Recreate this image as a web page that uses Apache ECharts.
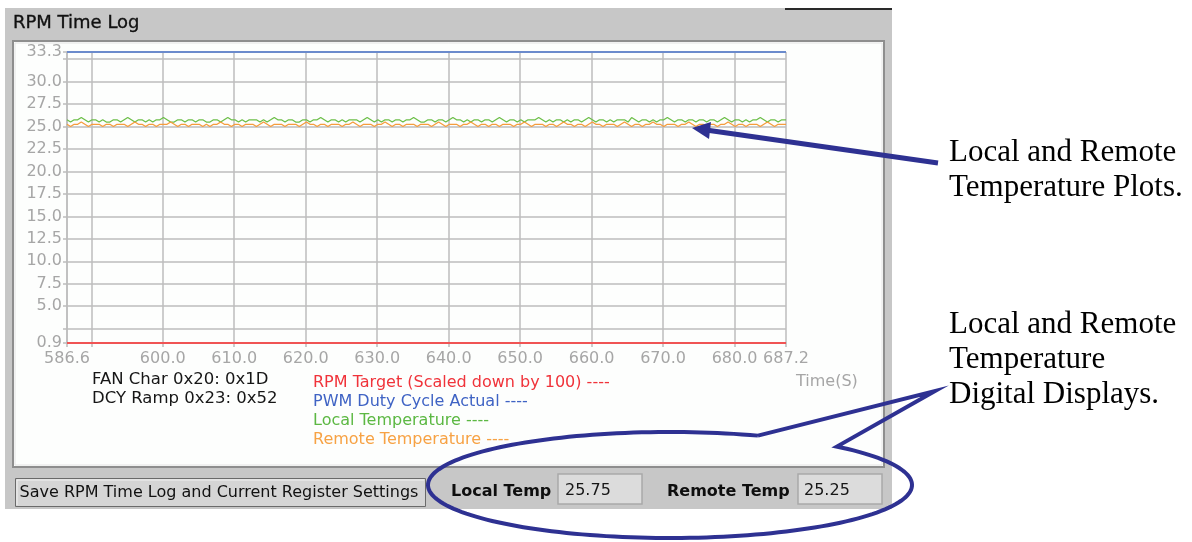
<!DOCTYPE html>
<html>
<head>
<meta charset="utf-8">
<script src="https://cdn.jsdelivr.net/npm/echarts@6/dist/echarts.min.js"></script>
<style>
  html, body { margin: 0; padding: 0; background: #ffffff; }
  #chart { width: 1192px; height: 542px; }
</style>
</head>
<body>
<div id="chart"></div>
<script>
// Sample clock of the temperature log (seconds)
const times = [
  586.6,587.1,587.6,588.1,588.6,589.1,589.6,590.1,590.6,591.1,591.6,592.1,592.6,593.1,593.6,594.1,594.6,595.1,595.6,596.1,
  596.6,597.1,597.6,598.1,598.6,599.1,599.6,600.1,600.6,601.1,601.6,602.1,602.6,603.1,603.6,604.1,604.6,605.1,605.6,606.1,
  606.6,607.1,607.6,608.1,608.6,609.1,609.6,610.1,610.6,611.1,611.6,612.1,612.6,613.1,613.6,614.1,614.6,615.1,615.6,616.1,
  616.6,617.1,617.6,618.1,618.6,619.1,619.6,620.1,620.6,621.1,621.6,622.1,622.6,623.1,623.6,624.1,624.6,625.1,625.6,626.1,
  626.6,627.1,627.6,628.1,628.6,629.1,629.6,630.1,630.6,631.1,631.6,632.1,632.6,633.1,633.6,634.1,634.6,635.1,635.6,636.1,
  636.6,637.1,637.6,638.1,638.6,639.1,639.6,640.1,640.6,641.1,641.6,642.1,642.6,643.1,643.6,644.1,644.6,645.1,645.6,646.1,
  646.6,647.1,647.6,648.1,648.6,649.1,649.6,650.1,650.6,651.1,651.6,652.1,652.6,653.1,653.6,654.1,654.6,655.1,655.6,656.1,
  656.6,657.1,657.6,658.1,658.6,659.1,659.6,660.1,660.6,661.1,661.6,662.1,662.6,663.1,663.6,664.1,664.6,665.1,665.6,666.1,
  666.6,667.1,667.6,668.1,668.6,669.1,669.6,670.1,670.6,671.1,671.6,672.1,672.6,673.1,673.6,674.1,674.6,675.1,675.6,676.1,
  676.6,677.1,677.6,678.1,678.6,679.1,679.6,680.1,680.6,681.1,681.6,682.1,682.6,683.1,683.6,684.1,684.6,685.1,685.6,686.1,
  686.6,687.2
];

// Local temperature (deg C)
const localTemp = [
  25.75,25.5,25.75,25.75,26.0,25.75,25.5,25.75,25.75,25.5,25.75,25.5,25.5,25.75,25.75,25.5,25.75,26.0,25.75,25.5,
  25.75,25.75,25.5,25.75,25.5,25.75,25.75,26.0,25.75,25.5,25.5,25.75,25.75,25.5,25.75,25.75,25.5,25.75,25.75,25.5,
  25.5,25.75,25.75,25.5,25.75,26.0,25.75,25.75,25.5,25.75,25.5,25.75,25.75,25.75,25.5,25.75,25.5,25.75,26.0,25.75,
  25.75,25.5,25.75,25.75,25.5,25.5,25.75,25.75,25.5,25.75,25.75,26.0,25.75,25.5,25.75,25.75,25.5,25.75,25.5,25.75,
  25.75,25.75,25.5,25.75,26.0,25.75,25.5,25.75,25.5,25.75,25.75,25.5,25.75,25.75,25.5,25.75,25.75,26.0,25.75,25.5,
  25.5,25.75,25.75,25.5,25.75,25.75,25.5,25.75,26.0,25.75,25.75,25.5,25.75,25.5,25.75,25.75,25.5,25.75,25.75,25.5,
  25.75,26.0,25.75,25.5,25.75,25.75,25.5,25.75,25.5,25.75,25.75,25.75,26.0,25.75,25.5,25.75,25.5,25.75,25.75,25.5,
  25.75,25.5,25.75,25.75,25.5,25.75,26.0,25.75,25.5,25.75,25.75,25.5,25.75,25.5,25.75,25.75,25.75,25.5,26.0,25.75,
  25.5,25.75,25.75,25.5,25.75,25.5,25.75,25.75,26.0,25.75,25.5,25.75,25.75,25.5,25.75,25.75,25.5,25.75,25.75,25.5,
  25.75,25.75,25.5,25.75,26.0,25.75,25.5,25.75,25.75,25.5,25.75,25.5,25.75,25.75,26.0,25.75,25.5,25.75,25.75,25.5,
  25.75,25.75
];

// Remote temperature (deg C)
const remoteTemp = [
  25.25,25.0,25.25,25.25,25.5,25.25,25.0,25.25,25.25,25.25,25.0,25.25,25.25,25.0,25.25,25.25,25.25,25.0,25.25,25.5,
  25.25,25.25,25.0,25.25,25.25,25.0,25.25,25.25,25.25,25.5,25.25,25.0,25.25,25.25,25.0,25.25,25.25,25.25,25.0,25.25,
  25.0,25.25,25.25,25.5,25.25,25.25,25.0,25.25,25.25,25.0,25.25,25.25,25.25,25.0,25.25,25.5,25.25,25.0,25.25,25.25,
  25.25,25.0,25.25,25.25,25.25,25.0,25.25,25.5,25.25,25.25,25.0,25.25,25.25,25.0,25.25,25.25,25.25,25.0,25.25,25.25,
  25.5,25.25,25.0,25.25,25.25,25.25,25.0,25.25,25.25,25.5,25.25,25.0,25.25,25.25,25.0,25.25,25.25,25.25,25.0,25.25,
  25.25,25.25,25.0,25.25,25.5,25.25,25.0,25.25,25.25,25.25,25.0,25.25,25.25,25.5,25.25,25.0,25.25,25.25,25.0,25.25,
  25.25,25.0,25.25,25.25,25.25,25.0,25.25,25.25,25.5,25.25,25.0,25.25,25.25,25.25,25.0,25.25,25.25,25.0,25.25,25.5,
  25.25,25.25,25.0,25.25,25.25,25.0,25.25,25.5,25.25,25.25,25.0,25.25,25.25,25.25,25.0,25.25,25.5,25.25,25.0,25.25,
  25.25,25.0,25.25,25.25,25.5,25.25,25.25,25.0,25.25,25.25,25.25,25.0,25.25,25.25,25.5,25.25,25.0,25.25,25.25,25.0,
  25.25,25.25,25.0,25.25,25.25,25.5,25.25,25.0,25.25,25.25,25.0,25.25,25.25,25.25,25.0,25.25,25.5,25.25,25.0,25.25,
  25.25,25.25
];

// Flat traces over the whole window
const flatTimes = [586.6, 687.2];
const rpmTarget = [0.9, 0.9];        // RPM target / 100
const pwmDuty = [33.3, 33.3];        // PWM duty cycle actual

const seriesNames = [
  'RPM Target (Scaled down by 100)',
  'PWM Duty Cycle Actual',
  'Local Temperature',
  'Remote Temperature'
];

// Axis ticks and labels
const xTicks = [586.6, 590, 600, 610, 620, 630, 640, 650, 660, 670, 680, 687.2];
const xLabels = [586.6, 600, 610, 620, 630, 640, 650, 660, 670, 680, 687.2];
const yTicks = [0.9, 2.5, 5, 7.5, 10, 12.5, 15, 17.5, 20, 22.5, 25, 27.5, 30, 32.5, 33.3];
const yLabels = [0.9, 5, 7.5, 10, 12.5, 15, 17.5, 20, 22.5, 25, 27.5, 30, 33.3];

const registerLines = ['FAN Char 0x20: 0x1D', 'DCY Ramp 0x23: 0x52'];

const UI_FONT = '"DejaVu Sans", Verdana, sans-serif';
const NOTE_FONT = '"Liberation Serif", "Times New Roman", serif';
const NAVY = '#2e3192';
const AXIS_TEXT = '#a6a6a6';
const GRID_LINE = '#bcbcbc';
const lineColors = ['#f05454', '#6b8bcc', '#6cbf48', '#f59c3c'];
const legendColors = ['#f0333a', '#3f63c4', '#5cb843', '#f7a244'];

const zip = (xs, ys) => xs.map((x, i) => [x, ys[i]]);

// Speech-bubble outline: an ellipse opened between two points, with a tail
function bubblePoints(cx, cy, rx, ry, fromDeg, toDeg, tip) {
  const pts = [];
  const step = fromDeg > toDeg ? -2 : 2;
  for (let a = fromDeg; step < 0 ? a >= toDeg : a <= toDeg; a += step) {
    const r = a * Math.PI / 180;
    pts.push([cx + rx * Math.cos(r), cy + ry * Math.sin(r)]);
  }
  const rEnd = toDeg * Math.PI / 180;
  pts.push([cx + rx * Math.cos(rEnd), cy + ry * Math.sin(rEnd)]);
  pts.push(tip);
  pts.push(pts[0]);
  return pts;
}

const chart = echarts.init(document.getElementById('chart'), null, { renderer: 'canvas' });

function txt(x, y, text, opts) {
  return {
    type: 'text', x: x, y: y, silent: true, z: opts.z || 5,
    style: Object.assign({
      text: text,
      fill: '#111111',
      fontSize: 16,
      fontFamily: UI_FONT,
      textAlign: 'left',
      textVerticalAlign: 'middle'
    }, opts.style || {})
  };
}

const lastLocal = localTemp[localTemp.length - 1].toFixed(2);
const lastRemote = remoteTemp[remoteTemp.length - 1].toFixed(2);

const graphics = [
  // window panel
  { type: 'rect', silent: true, z: -10, shape: { x: 5, y: 8, width: 887, height: 501 }, style: { fill: '#c7c7c7' } },
  { type: 'rect', silent: true, z: -9, shape: { x: 785, y: 8, width: 107, height: 2 }, style: { fill: '#2a2a2a' } },
  // plot frame
  { type: 'rect', silent: true, z: -8, shape: { x: 13, y: 41, width: 871, height: 426 }, style: { fill: '#fdfefd', stroke: '#8e8e8e', lineWidth: 2 } },
  { type: 'rect', silent: true, z: -7, shape: { x: 15, y: 43, width: 867, height: 422 }, style: { fill: 'none', stroke: '#e4e4e4', lineWidth: 1 } },
  txt(13, 23, 'RPM Time Log', { style: { fontSize: 18, fill: '#111111', stroke: '#111111', lineWidth: 0.35 } }),
  txt(92, 380, registerLines[0], { style: { fill: '#161616', fontSize: 16.5 } }),
  txt(92, 399, registerLines[1], { style: { fill: '#161616', fontSize: 16.5 } }),
  // save button
  { type: 'rect', silent: true, z: 1, shape: { x: 15.5, y: 478.5, width: 410, height: 28 }, style: { fill: '#d5d5d5', stroke: '#6a6a6a', lineWidth: 1 } },
  { type: 'polyline', silent: true, z: 2, shape: { points: [[17, 505], [17, 480], [424, 480]] }, style: { stroke: '#f2f2f2', lineWidth: 1, fill: 'none' } },
  txt(219, 493, 'Save RPM Time Log and Current Register Settings', { style: { textAlign: 'center', fontSize: 16, fill: '#111' } }),
  // temperature readouts
  txt(451, 492, 'Local Temp', { style: { fontWeight: 'bold', fill: '#0e0e0e' } }),
  { type: 'rect', silent: true, z: 1, shape: { x: 558, y: 474, width: 84, height: 30 }, style: { fill: '#dcdcdc', stroke: '#a9a9a9', lineWidth: 1.5 } },
  txt(565, 491, lastLocal, { style: { fill: '#161616' } }),
  txt(667, 492, 'Remote Temp', { style: { fontWeight: 'bold', fill: '#0e0e0e' } }),
  { type: 'rect', silent: true, z: 1, shape: { x: 798, y: 474, width: 84, height: 30 }, style: { fill: '#dcdcdc', stroke: '#a9a9a9', lineWidth: 1.5 } },
  txt(804, 491, lastRemote, { style: { fill: '#161616' } }),
  // callouts
  { type: 'line', silent: true, z: 100, shape: { x1: 938, y1: 163, x2: 706, y2: 130 }, style: { stroke: NAVY, lineWidth: 5 } },
  { type: 'polygon', silent: true, z: 100, shape: { points: [[692, 128], [711, 122], [709, 139]] }, style: { fill: NAVY } },
  { type: 'polyline', silent: true, z: 100,
    shape: { points: bubblePoints(670, 485, 242, 53, -68.7, -406.4, [935, 391]) },
    style: { fill: 'none', stroke: NAVY, lineWidth: 4, lineJoin: 'miter' } },
  txt(949, 135, 'Local and Remote\nTemperature Plots.', { style: { fontFamily: NOTE_FONT, fontSize: 31, lineHeight: 35, fill: '#000', textVerticalAlign: 'top' } }),
  txt(949, 307, 'Local and Remote\nTemperature\nDigital Displays.', { style: { fontFamily: NOTE_FONT, fontSize: 31, lineHeight: 35, fill: '#000', textVerticalAlign: 'top' } })
];

const axisCommon = {
  type: 'value',
  axisLine: { show: true, lineStyle: { color: GRID_LINE, width: 1.5 } },
  splitLine: { show: true, lineStyle: { color: GRID_LINE, width: 1.5 } },
  axisLabel: { color: AXIS_TEXT, fontSize: 16, fontFamily: UI_FONT, formatter: v => Number(v).toFixed(1) }
};

const option = {
  animation: false,
  backgroundColor: '#ffffff',
  grid: { left: 67, right: 406, top: 52, bottom: 199, show: true, backgroundColor: '#fdfefd', borderWidth: 0, containLabel: false, outerBoundsMode: 'none' },
  legend: {
    orient: 'vertical', left: 303, top: 368,
    icon: 'none', itemWidth: 0, itemHeight: 19, itemGap: 0,
    selectedMode: false,
    formatter: n => n + ' ----',
    textStyle: { fontSize: 16, fontFamily: UI_FONT, lineHeight: 19 },
    data: seriesNames.map((n, i) => ({ name: n, textStyle: { color: legendColors[i] } }))
  },
  xAxis: Object.assign({}, axisCommon, {
    min: 586.6, max: 687.2,
    name: 'Time(S)', nameLocation: 'end', nameGap: 10, nameMoveOverlap: false,
    nameTextStyle: { color: AXIS_TEXT, fontSize: 16, fontFamily: UI_FONT, align: 'left', verticalAlign: 'top', lineHeight: 16, padding: [31, 0, 0, 0] },
    axisTick: { show: true, inside: false, length: 4, customValues: xTicks, lineStyle: { color: GRID_LINE, width: 1.5 } },
    axisLabel: Object.assign({}, axisCommon.axisLabel, { customValues: xLabels, margin: 8 })
  }),
  yAxis: Object.assign({}, axisCommon, {
    min: 0.9, max: 33.3,
    axisTick: { show: true, inside: false, length: 4, customValues: yTicks, lineStyle: { color: GRID_LINE, width: 1.5 } },
    axisLabel: Object.assign({}, axisCommon.axisLabel, { customValues: yLabels, margin: 5 })
  }),
  series: [
    { name: seriesNames[0], type: 'line', data: zip(flatTimes, rpmTarget), showSymbol: false, silent: true, z: 3,
      lineStyle: { color: lineColors[0], width: 2 }, itemStyle: { color: lineColors[0] } },
    { name: seriesNames[1], type: 'line', data: zip(flatTimes, pwmDuty), showSymbol: false, silent: true, z: 3,
      lineStyle: { color: lineColors[1], width: 2 }, itemStyle: { color: lineColors[1] } },
    { name: seriesNames[2], type: 'line', data: zip(times, localTemp), showSymbol: false, silent: true, z: 4,
      lineStyle: { color: lineColors[2], width: 1.3 }, itemStyle: { color: lineColors[2] } },
    { name: seriesNames[3], type: 'line', data: zip(times, remoteTemp), showSymbol: false, silent: true, z: 4,
      lineStyle: { color: lineColors[3], width: 1.3 }, itemStyle: { color: lineColors[3] } }
  ],
  graphic: { elements: graphics }
};

chart.setOption(option);
</script>
</body>
</html>
